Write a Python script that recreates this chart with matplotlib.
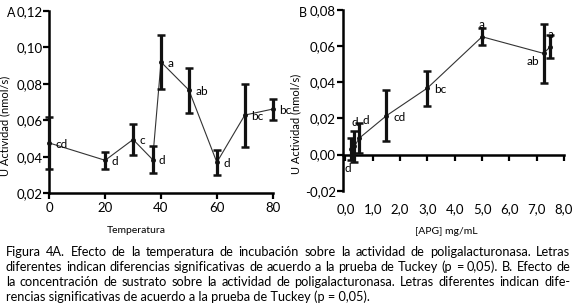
import numpy as np
import matplotlib
matplotlib.use("Agg")
import matplotlib.pyplot as plt

plt.rcParams['font.family'] = ['Lato', 'DejaVu Sans']

# Panel A: temperature
tempX = [0, 20, 30, 37, 40, 50, 60, 70, 80]
tempY = [0.0476, 0.0381, 0.0495, 0.0385, 0.0920, 0.0766, 0.0370, 0.0629, 0.0662]
tempErr = [0.0143, 0.0048, 0.0085, 0.0075, 0.0150, 0.0123, 0.0067, 0.0173, 0.0058]
tempLetters = ['cd', 'd', 'c', 'd', 'a', 'ab', 'd', 'bc', 'bc']

# Panel B: substrate concentration
apgX = [0.2, 0.33, 0.5, 1.5, 3.0, 5.0, 7.25, 7.5]
apgY = [0.0030, 0.0045, 0.0090, 0.0215, 0.0368, 0.0652, 0.0560, 0.0597]
apgErr = [0.0060, 0.0088, 0.0083, 0.0140, 0.0097, 0.0047, 0.0163, 0.0065]
apgLetters = ['d', 'd', 'd', 'cd', 'bc', 'a', 'ab', 'a']
apgPlace = ['below', 'above', 'aboveright', 'right', 'right', 'above', 'left', 'above']

tempYTicks = ['0,02', '0,04', '0,06', '0,08', '0,10', '0,12']
tempXTicks = ['0', '20', '40', '60', '80']
apgYTicks = ['-0,02', '0,00', '0,02', '0,04', '0,06', '0,08']
apgXTicks = ['0,0', '1,0', '2,0', '3,0', '4,0', '5,0', '6,0', '7,0', '8,0']

caption = [
    "Figura 4A. Efecto de la temperatura de incubación sobre la actividad de poligalacturonasa. Letras",
    "diferentes indican diferencias significativas de acuerdo a la prueba de Tuckey (p = 0,05). B. Efecto de",
    "la concentración de sustrato sobre la actividad de poligalacturonasa. Letras diferentes indican dife-",
    "rencias significativas de acuerdo a la prueba de Tuckey (p = 0,05).",
]

W, H = 576, 307
fig = plt.figure(figsize=(W / 100, H / 100), dpi=100)

def px_axes(left, top, right, bottom):
    return fig.add_axes([left / W, 1 - bottom / H, (right - left) / W, (bottom - top) / H])

def style(ax):
    for s in ['top', 'right']:
        ax.spines[s].set_visible(False)
    for s in ['left', 'bottom']:
        ax.spines[s].set_linewidth(1.8)
    ax.tick_params(width=1.6, length=4, labelsize=9.5, direction='out')

def draw(ax, x, y, err):
    ax.plot(x, y, '-', color='#333333', lw=0.8, zorder=2)
    ax.errorbar(x, y, yerr=err, fmt='o', color='#111111', ms=2.5, elinewidth=2.3,
                capsize=3, capthick=1.8, zorder=3, clip_on=False)

# ---- Panel A
axA = px_axes(49.3, 11, 272.7, 193.3)
style(axA)
draw(axA, tempX, tempY, tempErr)
axA.set_xlim(0, 80)
axA.set_ylim(0.02, 0.12)
axA.set_yticks(np.arange(0.02, 0.121, 0.02))
axA.set_yticklabels(tempYTicks)
axA.set_xticks([0, 20, 40, 60, 80])
axA.set_xticklabels(tempXTicks)
axA.tick_params(axis='x', pad=2)
axA.tick_params(axis='y', pad=1)
for xi, yi, lab in zip(tempX, tempY, tempLetters):
    axA.annotate(lab, (xi, yi), xytext=(4.5, -1), textcoords='offset points',
                 ha='left', va='center', fontsize=8.5, annotation_clip=False)
axA.set_xlabel('Temperatura', fontsize=7.5)
axA.xaxis.set_label_coords(0.39, -0.18)
axA.set_ylabel('U Actividad (nmol/s)', fontsize=8)
axA.yaxis.set_label_coords(-0.176, 0.37)
fig.text(11.7 / W, 1 - 13.3 / H, 'A', fontsize=9, ha='center', va='center')

# ---- Panel B
axB = px_axes(342.7, 10, 564, 190.7)
style(axB)
draw(axB, apgX, apgY, apgErr)
axB.set_xlim(-0.1, 8.0)
axB.set_ylim(-0.02, 0.08)
axB.spines['bottom'].set_position(('data', 0))
axB.set_yticks(np.arange(-0.02, 0.081, 0.02))
axB.set_yticklabels(apgYTicks)
axB.set_xticks(np.arange(0, 8.1, 1.0))
axB.set_xticklabels(apgXTicks)
axB.tick_params(axis='x', pad=31)
axB.tick_params(axis='y', pad=1)
offsets = {'right': (5, -1, 'left'), 'above': (0, 9, 'center'), 'below': (-2, -14, 'center'),
           'left': (-3, -6, 'right'), 'aboveright': (5, 13, 'center')}
for xi, yi, lab, pl in zip(apgX, apgY, apgLetters, apgPlace):
    dx, dy, ha = offsets[pl]
    if pl == 'above' and lab == 'd':
        dy = 17
    axB.annotate(lab, (xi, yi), xytext=(dx, dy), textcoords='offset points',
                 ha=ha, va='center', fontsize=8.5, annotation_clip=False)
axB.set_xlabel('[APG] mg/mL', fontsize=7.5)
axB.xaxis.set_label_coords(0.467, -0.2)
axB.set_ylabel('U Actividad (nmol/s)', fontsize=8)
axB.yaxis.set_label_coords(-0.185, 0.37)
fig.text(303.3 / W, 1 - 13.3 / H, 'B', fontsize=9, ha='center', va='center')

# ---- Caption, justified; size picked so the last line is as long as in the print
renderer = fig.canvas.get_renderer()
leftPx, rightPx, lastEnd = 6, 570, 370
probe = fig.text(0, 0, caption[-1], fontsize=10)
capSize = 10 * (lastEnd - leftPx) / probe.get_window_extent(renderer).width
probe.remove()
for i, line in enumerate(caption):
    yf = 1 - (256 + i * 15) / H
    if i == len(caption) - 1:
        fig.text(leftPx / W, yf, line, fontsize=capSize, ha='left', va='baseline')
        continue
    words = line.split(' ')
    arts = [fig.text(0, yf, w, fontsize=capSize, ha='left', va='baseline') for w in words]
    widths = [a.get_window_extent(renderer).width for a in arts]
    gap = (rightPx - leftPx - sum(widths)) / (len(words) - 1)
    x = leftPx
    for a, w in zip(arts, widths):
        a.set_x(x / W)
        x += w + gap

fig.savefig('out.png', dpi=100)
